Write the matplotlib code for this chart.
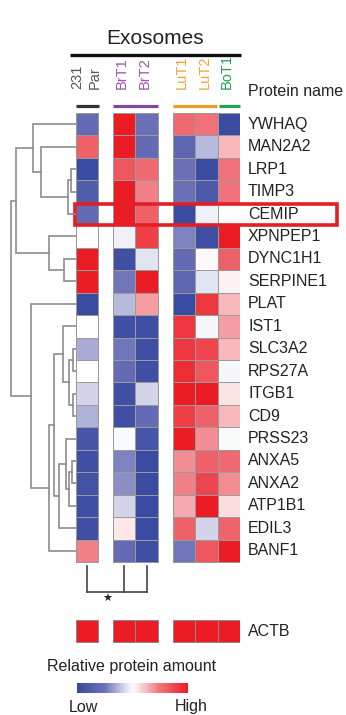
import numpy as np
import matplotlib
matplotlib.use("Agg")
import matplotlib.pyplot as plt
from matplotlib.colors import LinearSegmentedColormap, Normalize
from matplotlib.patches import Rectangle
from matplotlib.cm import ScalarMappable

plt.rcParams['font.family'] = ['Liberation Sans', 'DejaVu Sans']

# data
samples = ["231 Par", "BrT1", "BrT2", "LuT1", "LuT2", "BoT1"]
proteins = ["YWHAQ", "MAN2A2", "LRP1", "TIMP3", "CEMIP", "XPNPEP1", "DYNC1H1",
            "SERPINE1", "PLAT", "IST1", "SLC3A2", "RPS27A", "ITGB1", "CD9",
            "PRSS23", "ANXA5", "ANXA2", "ATP1B1", "EDIL3", "BANF1"]
# relative amount, -1 = low (blue), +1 = high (red)
values = [
    [-0.60, 1.00, -0.55, 0.55, 0.50, -0.95],
    [0.60, 1.00, -0.60, -0.65, -0.25, 0.25],
    [-0.95, 0.65, 0.55, -0.55, -0.95, 0.50],
    [-0.75, 1.00, 0.45, -0.55, -0.80, 0.50],
    [-0.60, 1.00, 0.60, -0.95, -0.05, 0.00],
    [0.00, -0.05, 0.80, -0.45, -0.90, 1.00],
    [1.00, -0.90, -0.10, -0.60, 0.02, 0.60],
    [1.00, -0.50, 1.00, -0.65, -0.10, 0.05],
    [-0.95, -0.25, 0.35, -0.95, 0.85, 0.25],
    [0.00, -0.90, -0.90, 0.85, -0.03, 0.35],
    [-0.30, -0.50, -0.90, 0.85, 0.75, 0.25],
    [0.00, -0.60, -0.90, 0.90, 0.65, -0.03],
    [-0.15, -0.90, -0.15, 1.00, 1.00, 0.10],
    [-0.28, -0.90, -0.60, 0.80, 0.60, 0.25],
    [-0.85, -0.02, -0.85, 1.00, 0.40, -0.02],
    [-0.90, -0.45, -0.95, 0.40, 0.60, 0.55],
    [-0.88, -0.40, -0.95, 0.45, 0.75, 0.40],
    [-0.90, -0.15, -0.95, 0.30, 1.00, 0.12],
    [-0.90, 0.08, -0.95, 0.60, -0.15, 0.58],
    [0.45, -0.60, -0.90, -0.50, 0.65, 1.00],
]
actb = [1.0, 1.0, 1.0, 1.0, 1.0, 1.0]
highlight = "CEMIP"

# hierarchical clustering of rows: (child a, child b, height); leaves 0..19, new nodes 20..
linkage = [(2, 3, 5), (20, 4, 8), (1, 21, 35), (0, 22, 43), (6, 7, 12), (5, 24, 27),
           (23, 25, 60), (10, 11, 3), (12, 13, 3), (27, 28, 7), (9, 29, 13),
           (15, 16, 4), (31, 17, 7), (14, 32, 10), (33, 18, 17), (30, 34, 22),
           (35, 19, 27), (8, 36, 45), (26, 37, 65)]

# sample groups: column indices, x start (cell units)
groups = [([0], 0.0), ([1, 2], 1.65), ([3, 4, 5], 4.33)]
label_colors = ["#555555", "#a253b5", "#a253b5", "#f2a33a", "#f2a33a", "#23a55a"]
bar_groups = [(0.0, 1.03, "#333333"), (1.65, 3.65, "#7d48a3"),
              (4.33, 6.28, "#f19a2c"), (6.40, 7.33, "#1fa650")]

cmap = LinearSegmentedColormap.from_list(
    "bwr2", [(0.0, "#34489f"), (0.25, "#7074b9"), (0.5, "#ffffff"),
             (0.75, "#f0727a"), (1.0, "#ec1c24")])
norm = Normalize(-1, 1)

W, H = 346, 715
fig = plt.figure(figsize=(W / 100, H / 100), dpi=100)
row_px = 22.45
cell_px = 22.4

def fx(px):
    return px / W

def fy(px):
    return 1 - px / H

top, bot = 113, 643
ax = fig.add_axes([fx(76), fy(bot), fx(240 - 76), (bot - top) / H])
ax.set_xlim(0, 164 / cell_px)
ax.set_ylim((bot - top) / row_px, 0)
ax.axis("off")

vals = np.array(values)
nrow = len(proteins)
actb_y = (620 - top) / row_px
for cols, x0 in groups:
    xe = x0 + np.arange(len(cols) + 1)
    ax.pcolormesh(xe, np.arange(nrow + 1), vals[:, cols], cmap=cmap, norm=norm,
                  edgecolor="#9a9a9a", linewidth=0.6)
    ax.pcolormesh(xe, [actb_y, actb_y + 1], np.array(actb)[cols][None, :], cmap=cmap,
                  norm=norm, edgecolor="#8a8a8a", linewidth=0.6)

xcent = {}
for cols, x0 in groups:
    for k, c in enumerate(cols):
        xcent[c] = x0 + k + 0.5

# column labels
lab_y = (89 - top) / row_px
for c, name in enumerate(samples):
    if c == 0:
        ax.text(xcent[c] - 0.45, lab_y, "231", rotation=90, ha="center", va="bottom",
                fontsize=10.5, color=label_colors[c], clip_on=False)
        ax.text(xcent[c] + 0.35, lab_y, "Par", rotation=90, ha="center", va="bottom",
                fontsize=10.5, color=label_colors[c], clip_on=False)
    else:
        ax.text(xcent[c] - 0.1, lab_y, name, rotation=90, ha="center", va="bottom",
                fontsize=10.5, color=label_colors[c], clip_on=False)

gy = (106 - top) / row_px
for a, b, col in bar_groups:
    ax.plot([a, b], [gy, gy], color=col, lw=2.3, clip_on=False, solid_capstyle="butt")

ey = (55 - top) / row_px
ax.plot([-6 / cell_px, 165 / cell_px], [ey, ey], color="#111111", lw=2.4,
        clip_on=False, solid_capstyle="butt")
ax.text(79 / cell_px, (38 - top) / row_px, "Exosomes", ha="center", va="center",
        fontsize=15, color="#222222", clip_on=False)

name_x = (248 - 76) / cell_px
ax.text(name_x, (91 - top) / row_px, "Protein name", ha="left", va="center",
        fontsize=11.5, color="#222222", clip_on=False)
for i, p in enumerate(proteins):
    ax.text(name_x, i + 0.5, p, ha="left", va="center", fontsize=11.5,
            color="#222222", clip_on=False)
ax.text(name_x, actb_y + 0.5, "ACTB", ha="left", va="center", fontsize=11.5,
        color="#222222", clip_on=False)

# highlight box
hi = proteins.index(highlight)
ax.add_patch(Rectangle((-0.05, hi + 0.05), (337 - 75) / cell_px, 0.95, fill=False,
                       edgecolor="#e31e25", lw=2.6, clip_on=False, zorder=5))

# significance bracket
by0, by1 = nrow + 0.2, (592 - top) / row_px
for c in [0, 1, 2]:
    ax.plot([xcent[c], xcent[c]], [by0, by1], color="#444444", lw=1.2, clip_on=False)
ax.plot([xcent[0], xcent[2]], [by1, by1], color="#444444", lw=1.2, clip_on=False)
ax.text((xcent[0] + xcent[1]) / 2 + 0.05, by1 + 0.3, "★", ha="center", va="center",
        fontsize=8, color="#222222", family="DejaVu Sans", clip_on=False)

# dendrogram
axd = fig.add_axes([fx(9), fy(top + nrow * row_px), fx(67), nrow * row_px / H])
axd.set_xlim(67, 0)
axd.set_ylim(nrow, 0)
axd.axis("off")
pos = {i: (0.0, i + 0.5) for i in range(nrow)}
for k, (a, b, h) in enumerate(linkage):
    ha, ya = pos[a]
    hb, yb = pos[b]
    axd.plot([ha, h, h, hb], [ya, ya, yb, yb], color="#8c8c8c", lw=1.2,
             solid_joinstyle="miter")
    pos[nrow + k] = (h, (ya + yb) / 2)

# color legend
fig.text(fx(47), fy(666), "Relative protein amount", ha="left", va="center",
         fontsize=11.5, color="#222222")
cax = fig.add_axes([fx(77), fy(693), fx(111), 10 / H])
cb = fig.colorbar(ScalarMappable(norm=norm, cmap=cmap), cax=cax, orientation="horizontal")
cb.set_ticks([])
cb.outline.set_visible(False)
fig.text(fx(83), fy(707), "Low", ha="center", va="center", fontsize=11.5, color="#222222")
fig.text(fx(191), fy(707), "High", ha="center", va="center", fontsize=11.5, color="#222222")

fig.savefig("out.png", dpi=100)
